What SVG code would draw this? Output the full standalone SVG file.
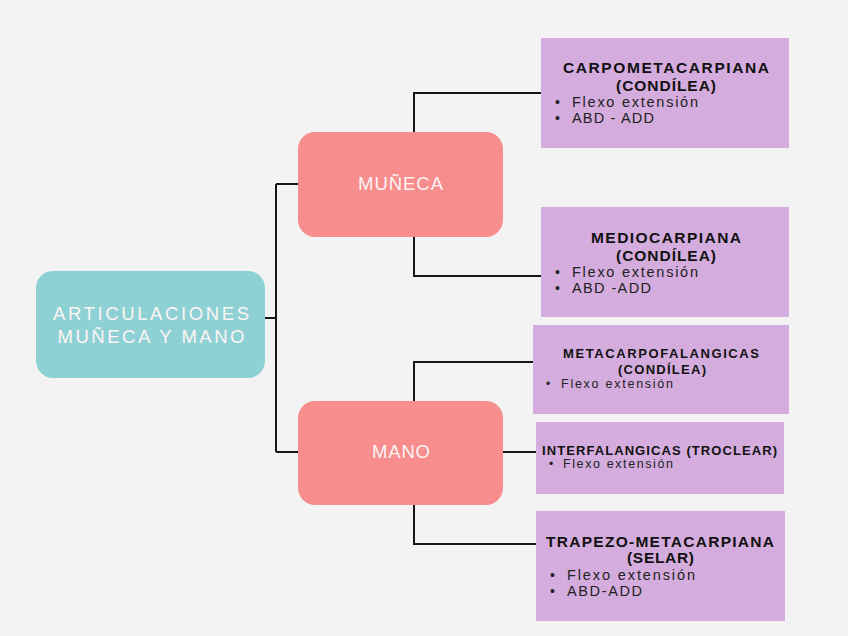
<svg xmlns="http://www.w3.org/2000/svg" width="848" height="636" viewBox="0 0 848 636">
<style>
.conn{fill:none;stroke:#161616;stroke-width:2}
.main{fill:#8dd1d5}
.sub{fill:#f78d8c}
.leaf{fill:#d4acdd}
.nt{font-family:"Liberation Sans",Arial,sans-serif;font-size:18.5px;fill:#fdf4f4;text-anchor:middle}
.tt{font-family:"Liberation Sans",Arial,sans-serif;font-weight:bold;fill:#111;text-anchor:middle}
.it{font-family:"Liberation Sans",Arial,sans-serif;fill:#222}
</style>
<rect width="848" height="636" fill="#f3f3f3"/>
<g id="connectors">
<path class="conn" d="M265,318H276M276,184V452M276,184H298M276,452H298"/>
<path class="conn" d="M414,132V93H541M414,237V276H541"/>
<path class="conn" d="M414,401V362H533M503,452H536M414,505V544H536"/>
</g>
<g id="root">
<rect class="main" x="36" y="271" width="229" height="107" rx="17"/>
<text class="nt" x="151" y="320" textLength="196" lengthAdjust="spacing">ARTICULACIONES</text>
<text class="nt" x="151" y="343" textLength="187" lengthAdjust="spacing">MUÑECA Y MANO</text>
</g>
<g id="muneca">
<rect class="sub" x="298" y="132" width="205" height="105" rx="17"/>
<text class="nt" x="400.5" y="190" textLength="85" lengthAdjust="spacing">MUÑECA</text>
</g>
<g id="mano">
<rect class="sub" x="298" y="401" width="205" height="104" rx="17"/>
<text class="nt" x="401" y="458" textLength="58" lengthAdjust="spacing">MANO</text>
</g>
<g id="carpometacarpiana">
<rect class="leaf" x="541" y="38" width="248" height="110"/>
<text class="tt" x="666" y="73" font-size="15.5" textLength="206" lengthAdjust="spacing">CARPOMETACARPIANA</text>
<text class="tt" x="666" y="91" font-size="15.5" textLength="100" lengthAdjust="spacing">(CONDÍLEA)</text>
<text class="it" x="555" y="107" font-size="14">•</text>
<text class="it" x="572" y="107" font-size="14.5" textLength="126" lengthAdjust="spacing">Flexo extensión</text>
<text class="it" x="555" y="123" font-size="14">•</text>
<text class="it" x="572" y="123" font-size="14.5" textLength="82" lengthAdjust="spacing">ABD - ADD</text>
</g>
<g id="mediocarpiana">
<rect class="leaf" x="541" y="207" width="248" height="110"/>
<text class="tt" x="666" y="243" font-size="15.5" textLength="150" lengthAdjust="spacing">MEDIOCARPIANA</text>
<text class="tt" x="666" y="261" font-size="15.5" textLength="100" lengthAdjust="spacing">(CONDÍLEA)</text>
<text class="it" x="555" y="277" font-size="14">•</text>
<text class="it" x="572" y="277" font-size="14.5" textLength="126" lengthAdjust="spacing">Flexo extensión</text>
<text class="it" x="555" y="293" font-size="14">•</text>
<text class="it" x="572" y="293" font-size="14.5" textLength="79" lengthAdjust="spacing">ABD -ADD</text>
</g>
<g id="metacarpofalangicas">
<rect class="leaf" x="533" y="325" width="256" height="89"/>
<text class="tt" x="661" y="358" font-size="13" textLength="196" lengthAdjust="spacing">METACARPOFALANGICAS</text>
<text class="tt" x="662" y="374" font-size="13" textLength="88" lengthAdjust="spacing">(CONDÍLEA)</text>
<text class="it" x="546" y="388" font-size="12">•</text>
<text class="it" x="561" y="388" font-size="12.5" textLength="112" lengthAdjust="spacing">Flexo extensión</text>
</g>
<g id="interfalangicas">
<rect class="leaf" x="536" y="422" width="248" height="72"/>
<text class="tt" x="659.5" y="455" font-size="13" textLength="235" lengthAdjust="spacing">INTERFALANGICAS (TROCLEAR)</text>
<text class="it" x="549" y="468" font-size="12">•</text>
<text class="it" x="563" y="468" font-size="12.5" textLength="110" lengthAdjust="spacing">Flexo extensión</text>
</g>
<g id="trapezo">
<rect class="leaf" x="536" y="511" width="249" height="110"/>
<text class="tt" x="660" y="547" font-size="15.5" textLength="228" lengthAdjust="spacing">TRAPEZO-METACARPIANA</text>
<text class="tt" x="660.5" y="563" font-size="15.5" textLength="67" lengthAdjust="spacing">(SELAR)</text>
<text class="it" x="550" y="580" font-size="14">•</text>
<text class="it" x="567" y="580" font-size="14.5" textLength="128" lengthAdjust="spacing">Flexo extensión</text>
<text class="it" x="550" y="596" font-size="14">•</text>
<text class="it" x="567" y="596" font-size="14.5" textLength="75" lengthAdjust="spacing">ABD-ADD</text>
</g>
</svg>
